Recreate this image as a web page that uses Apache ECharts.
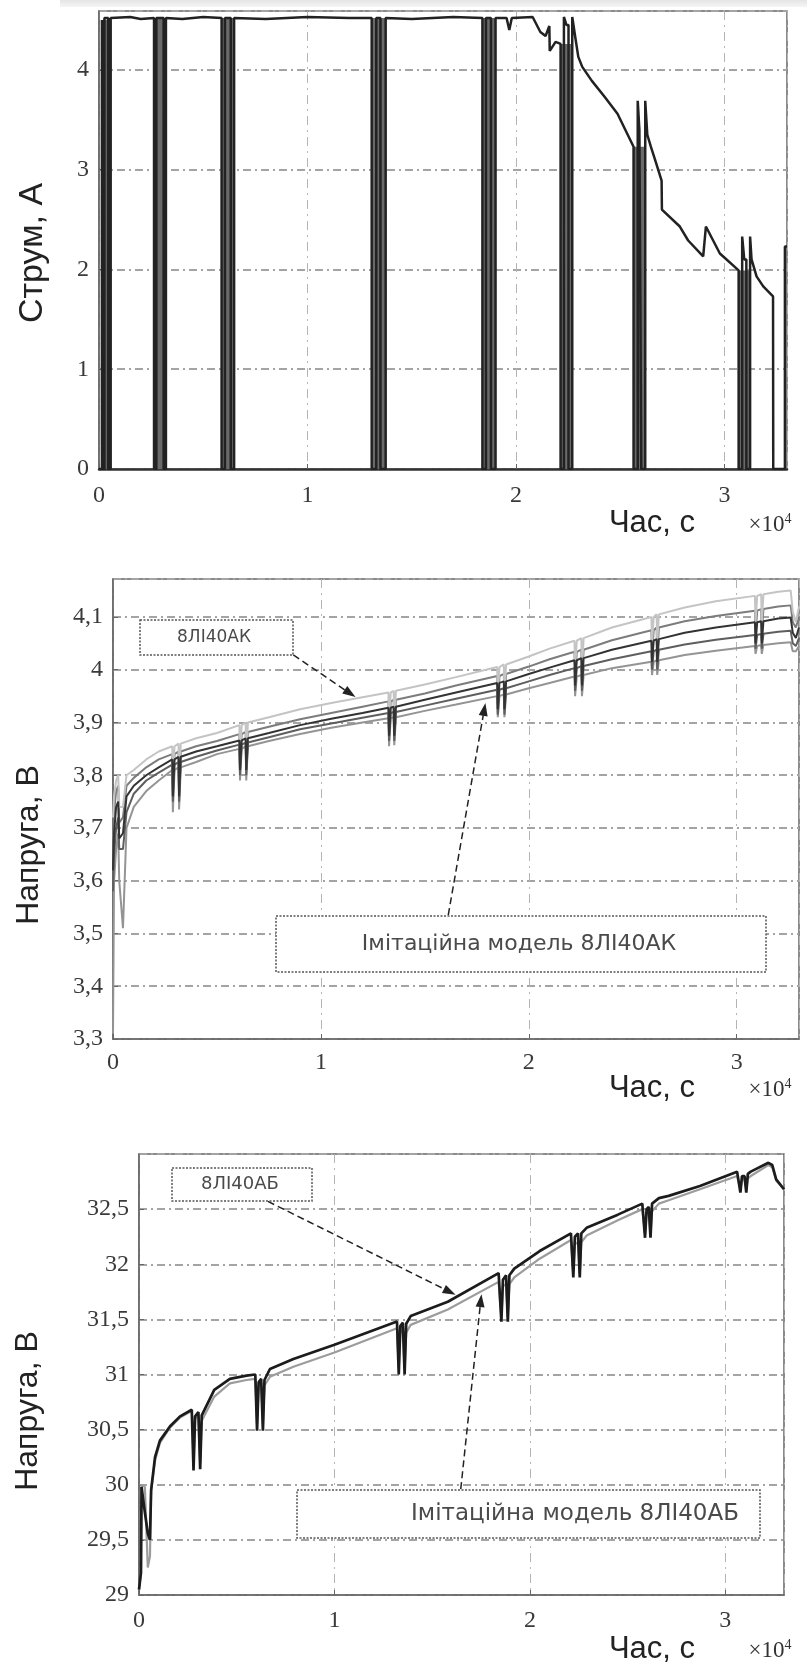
<!DOCTYPE html>
<html>
<head>
<meta charset="utf-8">
<script src="https://cdn.jsdelivr.net/npm/echarts@6/dist/echarts.min.js"></script>
<style>
  html, body { margin: 0; padding: 0; background: #fff; }
  #main { width: 807px; height: 1668px; }
</style>
</head>
<body>
<div id="main"></div>
<script>
// --- chart 1: current, A ---
var tCurrent = [0, 140, 140, 145, 145, 260, 260, 440, 440, 560, 560, 1500, 2000,
  2640, 2640, 2750, 2750, 3100, 3100, 3210, 3210, 4000, 5000,
  5880, 5880, 6040, 6040, 6320, 6320, 6480, 6480, 8000, 10000, 12000,
  13080, 13080, 13300, 13300, 13500, 13500, 13750, 13750, 15000, 17000,
  18390, 18390, 18560, 18560, 18800, 18800, 19020, 19020,
  19550, 19680, 19800, 20800, 21170, 21420, 21600, 21620, 21900, 22140,
  22140, 22300, 22300, 22420, 22520, 22520, 22700, 22700, 22850, 22990, 23180, 23640, 24250, 24870, 25640,
  25640, 25840, 25840, 25920, 26010, 26010, 26200, 26200, 26300, 26470, 26700, 26985, 27000, 27860, 28260, 28980, 29110, 29780, 30680,
  30680, 30850, 30850, 30950, 31050, 31050, 31230, 31230, 31300, 31540, 31860, 32330, 32340, 32900, 32900, 33000];
var iCurrent = [0, 0, 4.5, 4.5, 0, 0, 4.52, 4.52, 0, 0, 4.52, 4.53, 4.51,
  4.52, 0, 0, 4.52, 4.52, 0, 0, 4.52, 4.51, 4.53,
  4.52, 0, 0, 4.52, 4.52, 0, 0, 4.52, 4.51, 4.53, 4.52,
  4.52, 0, 0, 4.52, 4.52, 0, 0, 4.52, 4.51, 4.53,
  4.52, 0, 0, 4.52, 4.52, 0, 0, 4.52,
  4.52, 4.40, 4.52, 4.53, 4.38, 4.34, 4.44, 4.19, 4.28, 4.26,
  0, 0, 4.53, 4.45, 4.45, 0, 0, 4.53, 4.32, 4.13, 4.03, 3.89, 3.73, 3.56, 3.23,
  0, 0, 3.69, 3.4, 3.4, 0, 0, 3.69, 3.35, 3.23, 3.08, 2.89, 2.60, 2.43, 2.29, 2.13, 2.43, 2.16, 1.99,
  0, 0, 2.33, 2.1, 2.1, 0, 0, 2.33, 2.1, 1.93, 1.83, 1.73, 0, 0, 2.23, 2.23];
// pulse groups (dense switching), drawn as grey bands
var groupStart = [140, 2640, 5880, 13080, 18390, 22140, 25640, 30680];
var groupEnd = [560, 3210, 6480, 13750, 19020, 22700, 26200, 31230];
var groupLevel = [4.5, 4.52, 4.52, 4.52, 4.52, 4.26, 3.23, 1.99];

// --- chart 2: cell voltages 8ЛІ40АК, V ---
var tCell = [0, 50, 150, 250, 300, 480, 650, 1000, 1600, 2200, 2850, 2880, 2960, 3150, 3180, 3260,
  4000, 5000, 6080, 6110, 6190, 6380, 6410, 6490, 7500, 9000, 10500, 12000,
  13250, 13280, 13360, 13500, 13530, 13610, 15000, 16500,
  18480, 18510, 18590, 18800, 18830, 18910, 20000, 21000,
  22200, 22230, 22310, 22530, 22560, 22640, 24000,
  25900, 25930, 26010, 26150, 26180, 26260, 27500, 29000,
  30880, 30910, 30990, 31180, 31210, 31290, 32000, 32600, 32700, 32850, 33000];
var cellA = [3.72, 3.76, 3.79, 3.80, 3.74, 3.74, 3.80, 3.81, 3.83, 3.845, 3.855, 3.79, 3.855, 3.86, 3.79, 3.86,
  3.87, 3.88, 3.895, 3.835, 3.895, 3.90, 3.835, 3.90, 3.91, 3.925, 3.937, 3.948,
  3.957, 3.90, 3.957, 3.96, 3.90, 3.96, 3.972, 3.986,
  4.005, 3.95, 4.005, 4.01, 3.95, 4.01, 4.025, 4.04,
  4.055, 4.0, 4.055, 4.06, 4.0, 4.06, 4.08,
  4.10, 4.05, 4.10, 4.105, 4.05, 4.105, 4.118, 4.13,
  4.14, 4.09, 4.14, 4.143, 4.09, 4.143, 4.148, 4.15, 4.11, 4.09, 4.12];
var cellB = [3.68, 3.73, 3.77, 3.78, 3.71, 3.72, 3.78, 3.795, 3.815, 3.83, 3.84, 3.77, 3.84, 3.845, 3.775, 3.845,
  3.855, 3.865, 3.878, 3.82, 3.878, 3.882, 3.82, 3.882, 3.892, 3.906, 3.918, 3.93,
  3.94, 3.885, 3.94, 3.943, 3.885, 3.943, 3.955, 3.97,
  3.988, 3.935, 3.988, 3.992, 3.935, 3.992, 4.006, 4.02,
  4.034, 3.985, 4.034, 4.038, 3.985, 4.038, 4.056,
  4.075, 4.03, 4.075, 4.08, 4.03, 4.08, 4.092, 4.102,
  4.112, 4.07, 4.112, 4.115, 4.07, 4.115, 4.12, 4.122, 4.09, 4.08, 4.10];
var cellC = [3.62, 3.69, 3.74, 3.75, 3.68, 3.69, 3.76, 3.78, 3.80, 3.815, 3.83, 3.76, 3.83, 3.835, 3.76, 3.835,
  3.845, 3.855, 3.866, 3.81, 3.866, 3.87, 3.81, 3.87, 3.88, 3.895, 3.907, 3.918,
  3.928, 3.875, 3.928, 3.93, 3.875, 3.93, 3.943, 3.957,
  3.975, 3.925, 3.975, 3.978, 3.925, 3.978, 3.992, 4.004,
  4.018, 3.97, 4.018, 4.022, 3.97, 4.022, 4.038,
  4.055, 4.015, 4.055, 4.058, 4.015, 4.058, 4.07, 4.08,
  4.09, 4.05, 4.09, 4.092, 4.05, 4.092, 4.097, 4.099, 4.07, 4.06, 4.08];
var cellD = [3.58, 3.65, 3.70, 3.72, 3.66, 3.66, 3.73, 3.765, 3.79, 3.805, 3.82, 3.75, 3.82, 3.825, 3.75, 3.825,
  3.835, 3.847, 3.858, 3.80, 3.858, 3.862, 3.80, 3.862, 3.872, 3.887, 3.898, 3.909,
  3.918, 3.865, 3.918, 3.92, 3.865, 3.92, 3.932, 3.945,
  3.962, 3.915, 3.962, 3.965, 3.915, 3.965, 3.978, 3.99,
  4.003, 3.96, 4.003, 4.007, 3.96, 4.007, 4.02,
  4.035, 4.0, 4.035, 4.038, 4.0, 4.038, 4.048, 4.057,
  4.066, 4.04, 4.066, 4.068, 4.04, 4.068, 4.072, 4.074, 4.05, 4.045, 4.06];
var cellE = [3.31, 3.60, 3.66, 3.69, 3.60, 3.51, 3.70, 3.74, 3.77, 3.79, 3.81, 3.73, 3.81, 3.815, 3.735, 3.815,
  3.825, 3.84, 3.85, 3.79, 3.85, 3.855, 3.79, 3.855, 3.865, 3.878, 3.89, 3.90,
  3.908, 3.855, 3.908, 3.91, 3.857, 3.91, 3.922, 3.934,
  3.95, 3.91, 3.95, 3.953, 3.91, 3.953, 3.965, 3.975,
  3.987, 3.95, 3.987, 3.99, 3.95, 3.99, 4.003,
  4.015, 3.99, 4.015, 4.018, 3.99, 4.018, 4.028, 4.036,
  4.045, 4.03, 4.045, 4.047, 4.03, 4.047, 4.05, 4.052, 4.035, 4.035, 4.045];

// --- chart 3: battery 8ЛІ40АБ, V ---
var tBat = [0, 100, 130, 300, 450, 560, 620, 820, 1070, 1590, 2100,
  2700, 2790, 2870, 3040, 3130, 3210,
  3850, 4650, 5500,
  5950, 6040, 6120, 6250, 6340, 6420,
  6700, 7900, 10000,
  13200, 13290, 13370, 13500, 13590, 13670,
  13900, 15800, 18400,
  18450, 18540, 18620, 18780, 18870, 18950,
  19200, 20500, 22100,
  22130, 22220, 22300, 22460, 22550, 22630,
  22900, 24500, 25750,
  25800, 25890, 25970, 26080, 26170, 26250,
  26600, 27100, 28700, 30600,
  30680, 30770, 30850, 30980, 31070, 31150,
  31300, 32200, 32400, 32600, 33000];
var batMeasured = [29.05, 29.2, 29.98, 29.75, 29.56, 29.5, 29.95, 30.25, 30.4, 30.53, 30.62,
  30.68, 30.13, 30.62, 30.66, 30.14, 30.63,
  30.86, 30.96, 30.99,
  31.0, 30.49, 30.93, 30.96, 30.49, 30.95,
  31.05, 31.14, 31.27,
  31.48, 31.0, 31.44, 31.47, 31.0, 31.46,
  31.53, 31.66, 31.92,
  31.92, 31.48, 31.86, 31.9, 31.48, 31.9,
  31.96, 32.12, 32.28,
  32.28, 31.88, 32.25, 32.28, 31.88, 32.28,
  32.33, 32.45, 32.55,
  32.55, 32.24, 32.5, 32.52, 32.24, 32.55,
  32.6, 32.62, 32.71, 32.84,
  32.84, 32.65, 32.8, 32.8, 32.65, 32.82,
  32.84, 32.92, 32.9, 32.77, 32.68];
var batModel = [29.05, 29.2, 30.0, 29.98, 29.25, 29.35, 29.95, 30.22, 30.38, 30.52, 30.61,
  30.67, 30.2, 30.6, 30.62, 30.2, 30.58,
  30.8, 30.92, 30.95,
  30.96, 30.55, 30.9, 30.92, 30.55, 30.9,
  30.98, 31.07, 31.2,
  31.42, 31.05, 31.38, 31.4, 31.05, 31.38,
  31.45, 31.59, 31.84,
  31.85, 31.52, 31.8, 31.82, 31.52, 31.82,
  31.88, 32.05, 32.22,
  32.22, 31.92, 32.18, 32.2, 31.92, 32.2,
  32.26, 32.4, 32.5,
  32.5, 32.28, 32.46, 32.48, 32.28, 32.48,
  32.55, 32.58, 32.68, 32.8,
  32.8, 32.68, 32.77, 32.77, 32.68, 32.78,
  32.8, 32.9, 32.88, 32.76, 32.68];

var xTicks = ['0', '1', '2', '3'];

function pairs(xs, ys) {
  return xs.map(function (x, i) { return [x, ys[i]]; });
}
function decimalComma(v) {
  // whole numbers without decimals, others with a comma: 4 / 4,1 / 32,5
  return Math.abs(v - Math.round(v)) < 1e-6 ? String(Math.round(v)) : v.toFixed(1).replace('.', ',');
}

var tickFont = { fontFamily: 'Liberation Serif', fontSize: 24, color: '#3a3a3a' };
var hDash = { color: '#a4a4a4', width: 2, type: [8, 4, 2, 4] };
var vDash = { color: '#b4b4b4', width: 1, type: [9, 5, 2, 5] };

function xAxisFor(grid, margin, lineColor, lineWidth) {
  return {
    type: 'value', gridIndex: grid, min: 0, max: 33000, interval: 10000,
    axisLine: { show: true, lineStyle: { color: lineColor, width: lineWidth } },
    axisTick: { show: true, inside: true, length: 5, lineStyle: { color: '#666' } },
    axisLabel: Object.assign({ margin: margin, showMaxLabel: false,
      formatter: function (v) { return xTicks[Math.round(v / 10000)]; } }, tickFont),
    splitLine: { show: true, lineStyle: vDash }
  };
}
function yAxisFor(grid, min, max, interval) {
  return {
    type: 'value', gridIndex: grid, min: min, max: max, interval: interval,
    axisLine: { show: true, lineStyle: { color: '#666', width: 1.5 } },
    axisTick: { show: true, inside: true, length: 5, lineStyle: { color: '#666' } },
    axisLabel: Object.assign({ margin: 10, showMaxLabel: false, formatter: decimalComma }, tickFont),
    splitLine: { show: true, lineStyle: hDash }
  };
}

var arrowStyle = { type: [7, 4], color: '#222', width: 1.5 };

function box(x, y, w, h, label, size, cx) {
  return [
    { type: 'rect', z: 100, shape: { x: x, y: y, width: w, height: h },
      style: { fill: '#fff', stroke: '#555', lineWidth: 1.5, lineDash: [2, 1.5] } },
    { type: 'text', z: 101, x: cx, y: y + h / 2,
      style: { text: label, fontFamily: 'DejaVu Sans', fontSize: size, fill: '#4a4a4a',
        align: 'center', verticalAlign: 'middle' } }
  ];
}
function yName(text, x, y, size) {
  return { type: 'text', z: 101, x: x, y: y, rotation: Math.PI / 2,
    style: { text: text, fontFamily: 'Liberation Sans', fontSize: size, fill: '#222',
      align: 'center', verticalAlign: 'middle' } };
}
function xName(y) {
  return [
    { type: 'text', z: 101, x: 652, y: y,
      style: { text: 'Час, с', fontFamily: 'Liberation Sans', fontSize: 31, fill: '#222',
        align: 'center', verticalAlign: 'middle' } },
    { type: 'text', z: 101, x: 770, y: y + 2,
      style: { text: '{a|×10}{b|4}', align: 'center', verticalAlign: 'middle',
        rich: {
          a: { fontFamily: 'Liberation Serif', fontSize: 23, fill: '#333' },
          b: { fontFamily: 'Liberation Serif', fontSize: 14, fill: '#333', verticalAlign: 'top', padding: [0, 0, 12, 0] }
        } } }
  ];
}

function cellLine(values, color, width, extra) {
  return Object.assign({ type: 'line', xAxisIndex: 1, yAxisIndex: 1, showSymbol: false, silent: true,
    lineStyle: { color: color, width: width }, data: pairs(tCell, values) }, extra || {});
}

var chart = echarts.init(document.getElementById('main'), null, { renderer: 'canvas' });

var option = {
  animation: false,
  backgroundColor: '#fff',
  grid: [
    { left: 99, top: 11, width: 688, height: 458, show: true, borderColor: '#666', borderWidth: 1.5 },
    { left: 113, top: 579, width: 686, height: 460, show: true, borderColor: '#666', borderWidth: 1.5 },
    { left: 139, top: 1154, width: 645, height: 441, show: true, borderColor: '#666', borderWidth: 1.5 }
  ],
  xAxis: [xAxisFor(0, 15, '#333', 2.5), xAxisFor(1, 12, '#666', 1.5), xAxisFor(2, 14, '#666', 1.5)],
  yAxis: [
    yAxisFor(0, 0, 4.59, 1),
    yAxisFor(1, 3.3, 4.172, 0.1),
    yAxisFor(2, 29, 33, 0.5)
  ],
  series: [
    { type: 'custom', xAxisIndex: 0, yAxisIndex: 0, silent: true, z: 1,
      encode: { x: [0, 1], y: 2 },
      data: groupStart.map(function (s, i) { return [s, groupEnd[i], groupLevel[i]]; }),
      renderItem: function (params, api) {
        var p0 = api.coord([api.value(0), api.value(2)]);
        var p1 = api.coord([api.value(1), 0]);
        return { type: 'rect', shape: { x: p0[0], y: p0[1], width: p1[0] - p0[0], height: p1[1] - p0[1] },
          style: { fill: '#6a6a6a' } };
      } },
    { type: 'line', xAxisIndex: 0, yAxisIndex: 0, showSymbol: false, silent: true, z: 2,
      lineStyle: { color: '#222', width: 2.5 }, data: pairs(tCurrent, iCurrent) },

    cellLine(cellE, '#949494', 2.0),
    cellLine(cellD, '#5e5e5e', 2.0),
    cellLine(cellB, '#7c7c7c', 2.0),
    cellLine(cellA, '#c4c4c4', 2.0),
    cellLine(cellC, '#333', 2.0, {
      markLine: { silent: true, symbol: ['none', 'triangle'], symbolSize: [9, 13],
        label: { show: false }, lineStyle: arrowStyle,
        data: [
          [{ coord: [8675, 4.028] }, { coord: [11407, 3.955] }],
          [{ coord: [16127, 3.535] }, { coord: [17861, 3.925] }]
        ] } }),

    { type: 'line', xAxisIndex: 2, yAxisIndex: 2, showSymbol: false, silent: true,
      lineStyle: { color: '#9c9c9c', width: 2.2 }, data: pairs(tBat, batModel) },
    { type: 'line', xAxisIndex: 2, yAxisIndex: 2, showSymbol: false, silent: true,
      lineStyle: { color: '#1c1c1c', width: 2.7 }, data: pairs(tBat, batMeasured),
      markLine: { silent: true, symbol: ['none', 'triangle'], symbolSize: [9, 13],
        label: { show: false }, lineStyle: arrowStyle,
        data: [
          [{ coord: [6595, 32.57] }, { coord: [15900, 31.75] }],
          [{ coord: [16462, 29.96] }, { coord: [17485, 31.67] }]
        ] } }
  ],
  graphic: [].concat(
    [{ type: 'rect', z: 90, shape: { x: 60, y: 0, width: 747, height: 7 },
       style: { fill: new echarts.graphic.LinearGradient(0, 0, 0, 1, [
         { offset: 0, color: '#e4e4e4' }, { offset: 1, color: '#f6f6f6' }]) } }],
    yName('Струм, А', 33, 253, 34),
    xName(523),
    yName('Напруга, В', 29, 845, 32),
    xName(1088),
    box(140, 620, 153, 35, '8ЛІ40АК', 17, 214),
    box(276, 916, 490, 56, 'Імітаційна модель 8ЛІ40АК', 22, 519),
    yName('Напруга, В', 28, 1411, 32),
    xName(1649),
    box(172, 1168, 140, 33, '8ЛІ40АБ', 18, 240),
    box(297, 1490, 463, 48, 'Імітаційна модель 8ЛІ40АБ', 23, 575)
  )
};

chart.setOption(option);
</script>
</body>
</html>
